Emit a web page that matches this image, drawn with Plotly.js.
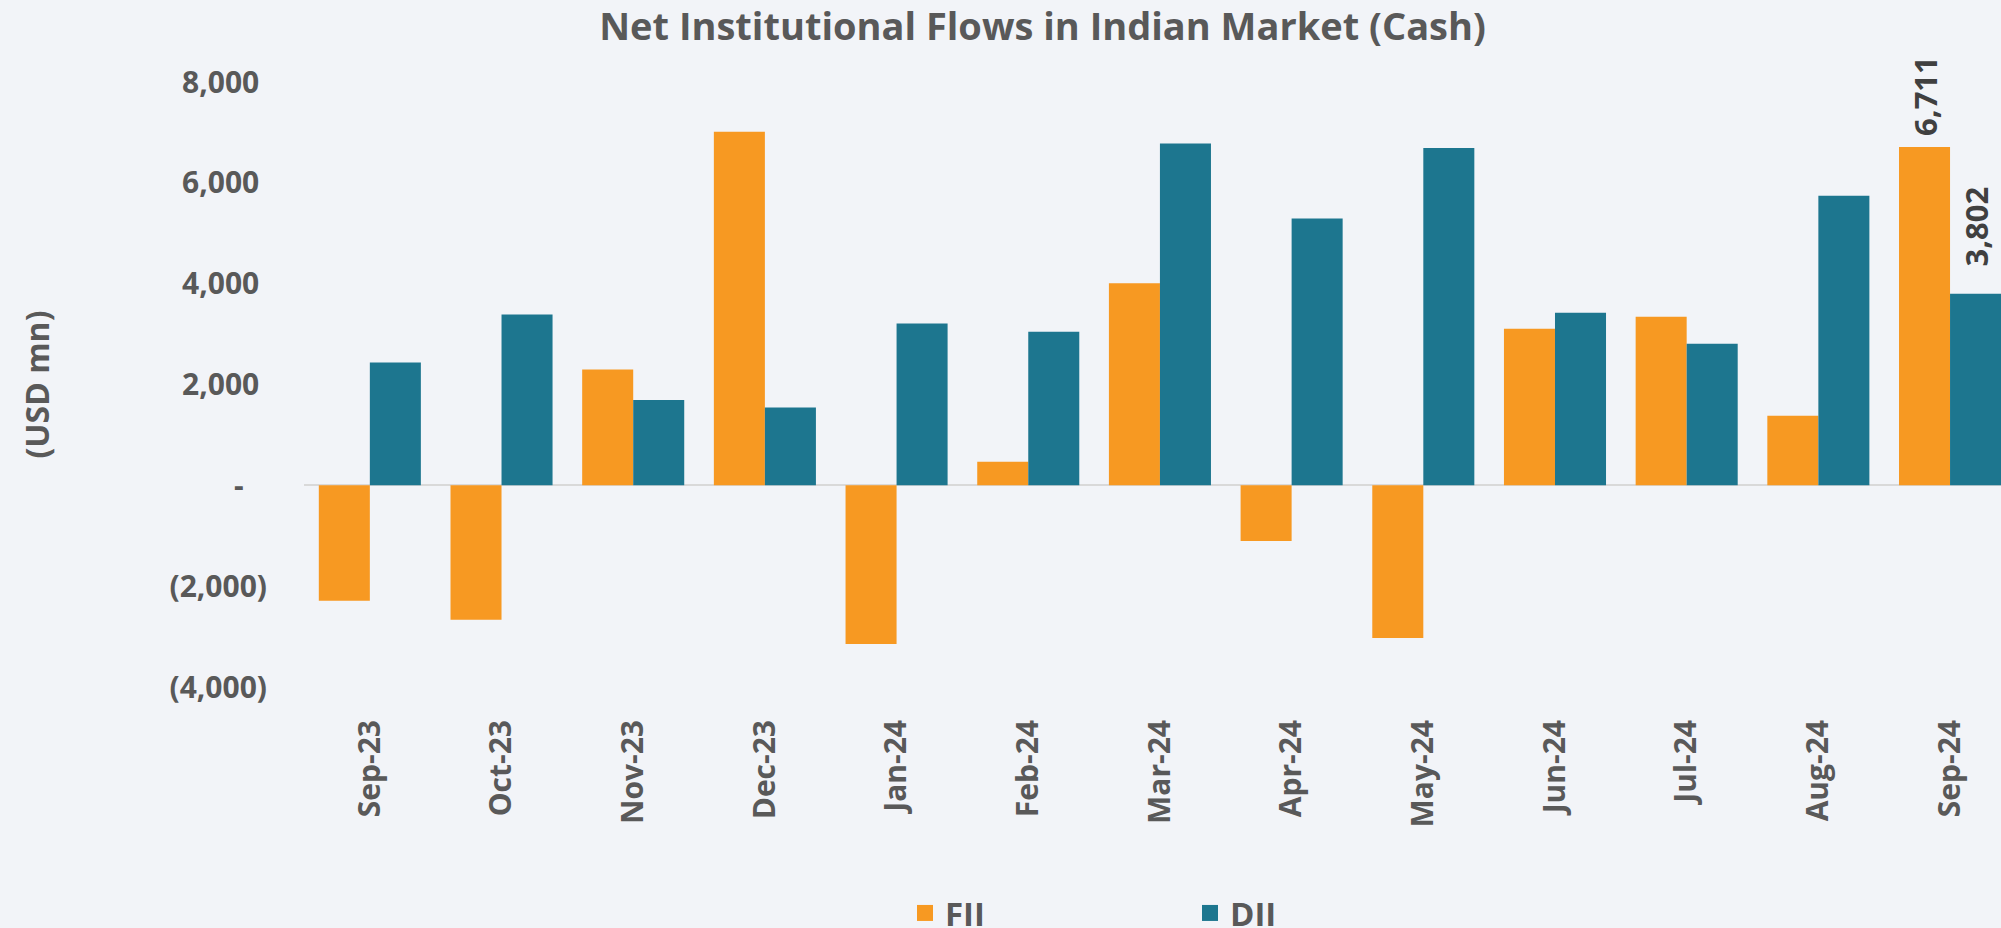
<!DOCTYPE html>
<html>
<head>
<meta charset="utf-8">
<script src="https://cdn.plot.ly/plotly-3.0.1.min.js"></script>
<style>
  html, body { margin: 0; padding: 0; background: #F2F4F8; }
  #chart { width: 2001px; height: 928px; }
</style>
</head>
<body>
<div id="chart"></div>
<script>
const months = ['Sep-23','Oct-23','Nov-23','Dec-23','Jan-24','Feb-24','Mar-24','Apr-24','May-24','Jun-24','Jul-24','Aug-24','Sep-24'];
const fii = [-2289, -2665, 2296, 7015, -3147, 468, 4010, -1105, -3026, 3104, 3345, 1381, 6711];
const dii = [2438, 3387, 1694, 1545, 3210, 3047, 6781, 5293, 6690, 3423, 2806, 5746, 3802];
const yTickVals = [-4000, -2000, 0, 2000, 4000, 6000, 8000];
const yTickText = ['(4,000)', '(2,000)', '-\u00a0\u00a0\u00a0', '2,000\u00a0', '4,000\u00a0', '6,000\u00a0', '8,000\u00a0'];
const seriesNames = ['FII', 'DII'];
const seriesColors = ['#F79922', '#1D768F'];

const fmt = v => v.toLocaleString('en-US');
// label only the last month; leading non-breaking spaces lift the label off the bar
const lastOnly = (arr, pad) => arr.map((v, i) => i === arr.length - 1 ? pad + fmt(v) : '');

const FONT = '"Open Sans", "Noto Sans", sans-serif';
const GREY = '#595959';

const labelFont = {family: FONT, size: 31, color: '#404040', weight: 700};

const traces = [
  {
    type: 'bar', name: seriesNames[0], x: months, y: fii, showlegend: false,
    marker: {color: seriesColors[0]},
    text: lastOnly(fii, '\u00a0'), textposition: 'outside', textangle: -90,
    textfont: labelFont, outsidetextfont: labelFont,
    cliponaxis: false, constraintext: 'none', hoverinfo: 'x+y'
  },
  {
    type: 'bar', name: seriesNames[1], x: months, y: dii, showlegend: false,
    marker: {color: seriesColors[1]},
    text: lastOnly(dii, '\u00a0\u00a0\u00a0'), textposition: 'outside', textangle: -90,
    textfont: labelFont, outsidetextfont: labelFont,
    cliponaxis: false, constraintext: 'none', hoverinfo: 'x+y'
  },
  // legend-only entries (no data drawn) so the legend squares can be larger
  {
    type: 'scatter', mode: 'markers', name: seriesNames[0], x: [null], y: [null],
    marker: {symbol: 'square', size: 20, color: seriesColors[0]}, hoverinfo: 'skip'
  },
  {
    type: 'scatter', mode: 'markers', name: seriesNames[1], x: [null], y: [null],
    marker: {symbol: 'square', size: 20, color: seriesColors[1]}, hoverinfo: 'skip'
  }
];

const layout = {
  width: 2001, height: 928,
  paper_bgcolor: '#F2F4F8', plot_bgcolor: '#F2F4F8',
  margin: {l: 304, r: 0, t: 82, b: 241, pad: 0},
  font: {family: FONT, color: GREY, size: 30, weight: 700},
  title: {
    text: 'Net Institutional Flows in Indian Market (Cash)',
    font: {family: FONT, size: 38, color: GREY, weight: 700},
    xref: 'container', x: 0.521, xanchor: 'center',
    yref: 'container', y: 1 - 27/928, yanchor: 'middle'
  },
  barmode: 'group', bargap: 0.225, bargroupgap: 0,
  showlegend: true,
  legend: {
    orientation: 'h', xref: 'container', yref: 'container',
    x: 905/2001, xanchor: 'left', y: 1 - 913/928, yanchor: 'middle',
    entrywidth: 240, entrywidthmode: 'pixels',
    font: {family: FONT, size: 33, color: GREY, weight: 700},
    bgcolor: 'rgba(0,0,0,0)', itemclick: false, itemdoubleclick: false
  },
  xaxis: {
    type: 'category', range: [-0.5, 12.387],
    showgrid: false, zeroline: false, showline: false,
    tickangle: -90, ticks: 'outside', ticklen: 20, tickcolor: 'rgba(0,0,0,0)',
    tickfont: {family: FONT, size: 30, color: GREY, weight: 700},
    automargin: false, fixedrange: true
  },
  yaxis: {
    range: [-4000, 8000],
    tickvals: yTickVals, ticktext: yTickText,
    showgrid: false, showline: false,
    zeroline: true, zerolinecolor: '#D9D9D9', zerolinewidth: 2,
    ticks: 'outside', ticklen: 30, tickcolor: 'rgba(0,0,0,0)',
    tickfont: {family: FONT, size: 30, color: GREY, weight: 700},
    title: {text: '\u00a0\u00a0(USD mn)', standoff: 110, font: {family: FONT, size: 32, color: GREY, weight: 700}},
    automargin: false, fixedrange: true
  }
};

Plotly.newPlot('chart', traces, layout, {displayModeBar: false, staticPlot: true});
</script>
</body>
</html>
